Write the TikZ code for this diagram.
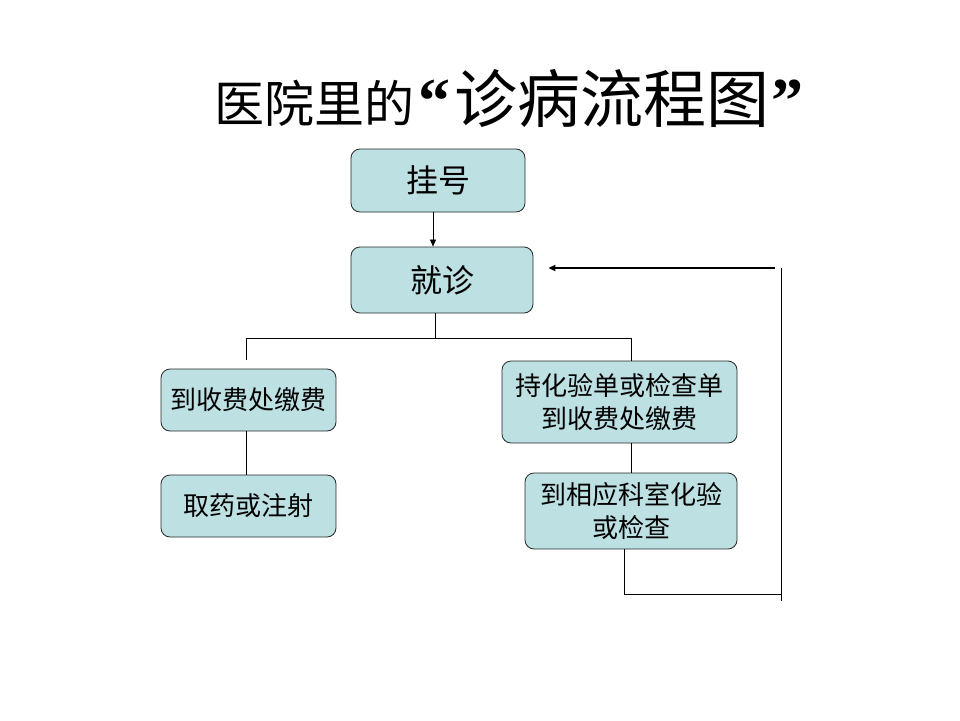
\documentclass[tikz,border=0pt]{standalone}
\usepackage{fontspec}
\newfontfamily\cjk{Noto Sans CJK SC}
\newfontfamily\qfont{Liberation Serif}
\usetikzlibrary{arrows.meta}
\definecolor{boxfill}{RGB}{189,224,227}
\begin{document}
\begin{tikzpicture}[x=1pt,y=-1pt,
  box/.style={draw=black!85, fill=boxfill, rounded corners=9pt, line width=0.8pt,
    align=center, inner sep=2pt, font=\cjk\fontsize{26}{33}\selectfont},
  bigbox/.style={box, font=\cjk\fontsize{32}{38}\selectfont},
  conn/.style={draw=black, line width=0.8pt},
  arr/.style={conn, -{Triangle[length=7pt,width=6pt]}}]
\useasboundingbox (0,0) rectangle (960,720);
% title
\node[anchor=base west, inner sep=0pt] (title) at (214,122)
  {{\cjk\fontsize{50}{60}\selectfont 医院里的}\kern4pt{\qfont\bfseries\fontsize{64}{70}\selectfont “}\kern4pt{\cjk\fontsize{63}{70}\selectfont 诊病流程图}\kern2pt{\qfont\bfseries\fontsize{64}{70}\selectfont ”}};
% boxes
\node[bigbox, minimum width=174pt, minimum height=63pt] (gua) at (438,180.5) {挂号};
\node[bigbox, minimum width=182pt, minimum height=66pt] (jiu) at (442,280) {就诊};
\node[box, minimum width=175pt, minimum height=62pt] (jiaofei) at (248.5,400) {到收费处缴费};
\node[box, minimum width=175pt, minimum height=62pt] (quyao) at (248.5,506) {取药或注射};
\node[box, minimum width=235pt, minimum height=82pt] (chi) at (619.5,402) {持化验单或检查单\\到收费处缴费};
\node[box, minimum width=212pt, minimum height=76pt] (dao) at (631,511) {到相应科室化验\\或检查};
% coordinates
\coordinate (hl) at (246,338);
\coordinate (hm) at (435,338);
\coordinate (hr) at (631,338);
\coordinate (ld) at (246,360);
\coordinate (l1) at (624,594);
\coordinate (l2) at (781,594);
\coordinate (v1) at (781,268);
\coordinate (v2) at (781,601);
\coordinate (a1) at (775,268);
% connectors
\draw[arr, line width=0.7pt] (gua.south -| 433,0) -- (jiu.north -| 433,0);
\draw[conn] (jiu.south -| hm) -- (hm);
\draw[conn] (ld) -- (hl) -- (hr) -- (chi.north -| hr);
\draw[conn] (jiaofei.south -| ld) -- (quyao.north -| ld);
\draw[conn] (chi.south -| dao.north) -- (dao.north);
\draw[conn] (dao.south -| l1) -- (l1) -- (l2);
\draw[conn] (v1) -- (v2);
\draw[arr, line width=1.6pt] (a1) -- ([xshift=15pt]jiu.east |- a1);
\end{tikzpicture}
\end{document}
